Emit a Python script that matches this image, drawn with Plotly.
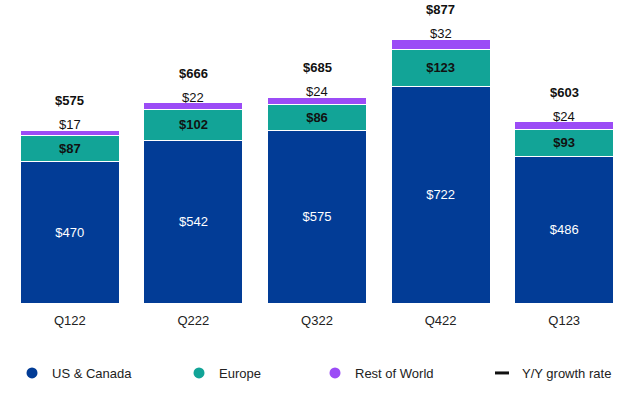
import plotly.graph_objects as go

quarters = ["Q122", "Q222", "Q322", "Q422", "Q123"]
us_canada = [470, 542, 575, 722, 486]
europe = [87, 102, 86, 123, 93]
rest_world = [17, 22, 24, 32, 24]
totals = [575, 666, 685, 877, 603]

C_US = "#023C96"
C_EU = "#12A497"
C_RW = "#9B4CF6"
FONT = "Liberation Sans, Arial, sans-serif"

W, H = 640, 393

fig = go.Figure()
fig.add_trace(go.Bar(x=quarters, y=us_canada, marker=dict(color=C_US, line=dict(color="white", width=1)),
                     texttemplate="$%{y}", textposition="inside", insidetextanchor="middle",
                     textfont=dict(color="white", size=13, family=FONT), showlegend=False, hoverinfo="skip"))
fig.add_trace(go.Bar(x=quarters, y=europe, marker=dict(color=C_EU, line=dict(color="white", width=1)),
                     texttemplate="<b>$%{y}</b>", textposition="inside", insidetextanchor="middle",
                     textfont=dict(color="#111111", size=13, family=FONT), showlegend=False, hoverinfo="skip"))
fig.add_trace(go.Bar(x=quarters, y=rest_world, marker=dict(color=C_RW, line=dict(color="white", width=1)),
                     textposition="none", showlegend=False, hoverinfo="skip"))

for q, r, t in zip(quarters, rest_world, totals):
    fig.add_annotation(x=q, y=t, text=f"${r}", showarrow=False, yanchor="bottom", yshift=-4,
                       font=dict(size=13, color="#111111", family=FONT))
    fig.add_annotation(x=q, y=t, text=f"<b>${t}</b>", showarrow=False, yanchor="bottom", yshift=20,
                       font=dict(size=13, color="#111111", family=FONT))

legend_items = [("US & Canada", C_US, "circle", 32), ("Europe", C_EU, "circle", 199),
                ("Rest of World", C_RW, "circle", 335), ("Y/Y growth rate", "#111111", "line-ew", 502)]
for i, (name, col, sym, px) in enumerate(legend_items):
    lg = "legend" if i == 0 else f"legend{i+1}"
    if sym == "circle":
        mk = dict(color=col, size=11, symbol="circle")
    else:
        mk = dict(color=col, size=10, symbol="line-ew", line=dict(color=col, width=3))
    fig.add_trace(go.Scatter(x=[None], y=[None], mode="markers", name=name, marker=mk,
                             legend=lg, showlegend=True))
    fig.layout[lg] = dict(xref="container", yref="container", x=(px - 20) / W, y=1 - 373 / H,
                          xanchor="left", yanchor="middle", orientation="h",
                          font=dict(size=13, color="#222222", family=FONT), bgcolor="rgba(0,0,0,0)")

fig.update_layout(
    barmode="stack", bargap=0.2,
    width=W, height=H,
    margin=dict(l=8, r=14, t=10, b=90),
    plot_bgcolor="white", paper_bgcolor="white",
    xaxis=dict(showgrid=False, showline=False, ticks="", ticklabelstandoff=8,
               tickfont=dict(size=13, color="#222222", family=FONT)),
    yaxis=dict(range=[0, 975], visible=False, showgrid=False),
)
fig.write_html("out.html", config={"displayModeBar": False},
               post_script="document.body.style.margin='0';document.body.style.overflow='hidden';")
